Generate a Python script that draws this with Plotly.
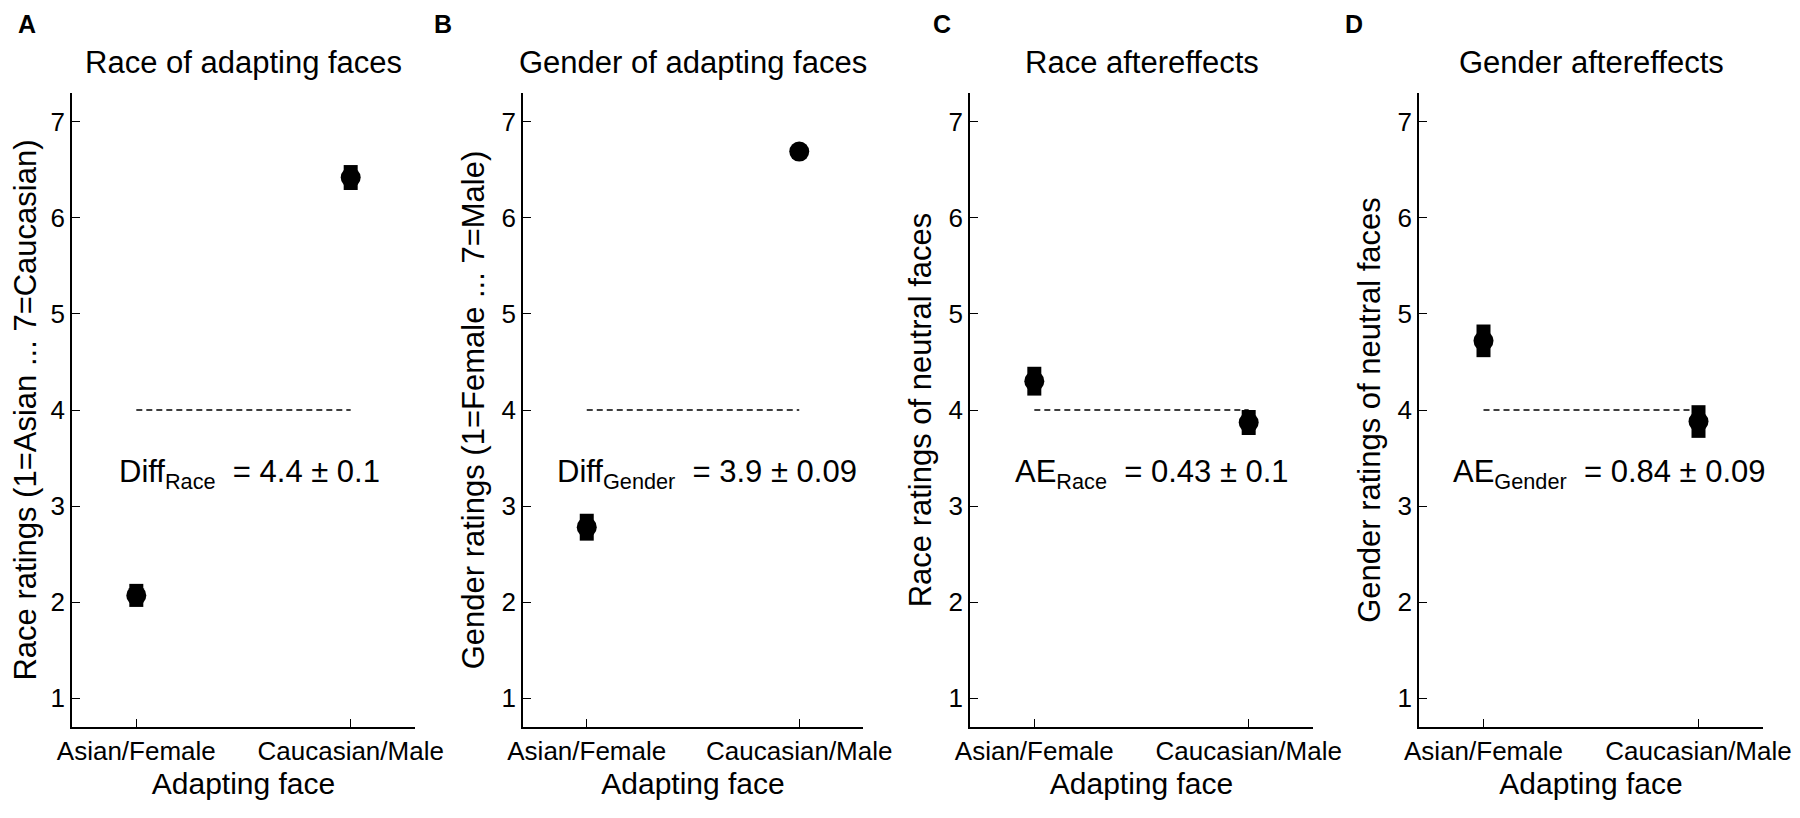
import plotly.graph_objects as go
from plotly.subplots import make_subplots

categories = ["Asian/Female", "Caucasian/Male"]
cat_pos = [1, 2]

race_adapt_mean = [2.07, 6.42]
race_adapt_err = [0.12, 0.13]
gender_adapt_mean = [2.78, 6.69]
gender_adapt_err = [0.14, 0.07]
race_ae_mean = [4.30, 3.87]
race_ae_err = [0.15, 0.13]
gender_ae_mean = [4.72, 3.88]
gender_ae_err = [0.17, 0.17]

panel_letters = ["A", "B", "C", "D"]
panel_titles = ["Race of adapting faces", "Gender of adapting faces",
                "Race aftereffects", "Gender aftereffects"]
y_titles = ["Race ratings (1=Asian ... 7=Caucasian)",
            "Gender ratings (1=Female ... 7=Male)",
            "Race ratings of neutral faces",
            "Gender ratings of neutral faces"]
stat_texts = ["Diff<sub>Race</sub>&nbsp; = 4.4 ± 0.1",
              "Diff<sub>Gender</sub>&nbsp; = 3.9 ± 0.09",
              "AE<sub>Race</sub>&nbsp; = 0.43 ± 0.1",
              "AE<sub>Gender</sub>&nbsp; = 0.84 ± 0.09"]
stat_x = [0.91, 0.85, 0.90, 0.85]
stat_y = 3.33
neutral = [4, 4]

means = [race_adapt_mean, gender_adapt_mean, race_ae_mean, gender_ae_mean]
errs = [race_adapt_err, gender_adapt_err, race_ae_err, gender_ae_err]

# the page body has an 8px margin, so the figure is a bit smaller than the window
OFF = 8
W, H = 1800 - 2 * OFF, 818 - 2 * OFF
FONT = "Liberation Sans, Arial, sans-serif"
# window pixel boxes of the four axes (left, right), shared top/bottom
x_px = [(72, 415), (523, 863), (970, 1313), (1419, 1763)]
y_top, y_bot = 93, 727
letter_px = [27, 443, 942, 1354]


def px(x):
    return (x - OFF) / W


def py(y):
    return 1 - (y - OFF) / H


fig = make_subplots(rows=1, cols=4)

for i in range(4):
    col = i + 1
    # dashed reference line at the scale midpoint
    fig.add_trace(go.Scatter(x=cat_pos, y=neutral, mode="lines",
                             line=dict(color="black", width=1.5, dash="6px,4px"),
                             showlegend=False, hoverinfo="skip"), row=1, col=col)
    fig.add_trace(go.Scatter(x=cat_pos, y=means[i], mode="markers",
                             marker=dict(color="black", size=20, symbol="circle"),
                             error_y=dict(type="data", array=errs[i], color="black",
                                          thickness=14, width=0),
                             showlegend=False), row=1, col=col)

    xn = "xaxis" if i == 0 else "xaxis%d" % col
    yn = "yaxis" if i == 0 else "yaxis%d" % col
    l, r = x_px[i]
    fig.layout[xn].update(domain=[px(l), px(r)], range=[0.7, 2.3], automargin=False,
                          tickvals=cat_pos, ticktext=categories,
                          ticklabeloverflow="allow",
                          ticks="inside", ticklen=8, tickcolor="black",
                          showline=True, linecolor="black", linewidth=1.5,
                          showgrid=False, zeroline=False,
                          tickfont=dict(size=26, color="black", family=FONT),
                          title=dict(text="Adapting face", standoff=8,
                                     font=dict(size=30, color="black", family=FONT)))
    fig.layout[yn].update(domain=[py(y_bot), py(y_top)], range=[0.7, 7.3],
                          automargin=False, tickvals=[1, 2, 3, 4, 5, 6, 7],
                          ticklabeloverflow="allow",
                          ticks="inside", ticklen=8, tickcolor="black",
                          showline=True, linecolor="black", linewidth=1.5,
                          showgrid=False, zeroline=False,
                          tickfont=dict(size=26, color="black", family=FONT),
                          title=dict(text=y_titles[i], standoff=8,
                                     font=dict(size=31, color="black", family=FONT)))

    xref = "x" if i == 0 else "x%d" % col
    yref = "y" if i == 0 else "y%d" % col
    fig.add_annotation(x=stat_x[i], y=stat_y, xref=xref, yref=yref,
                       text=stat_texts[i], showarrow=False, xanchor="left",
                       font=dict(size=31, color="black", family=FONT))
    fig.add_annotation(x=px((l + r) / 2), y=py(62), xref="paper", yref="paper",
                       xanchor="center", yanchor="middle",
                       text=panel_titles[i], showarrow=False,
                       font=dict(size=31, color="black", family=FONT))
    fig.add_annotation(x=px(letter_px[i]), y=py(24), xref="paper", yref="paper",
                       xanchor="center", yanchor="middle",
                       text="<b>%s</b>" % panel_letters[i], showarrow=False,
                       font=dict(size=25, color="black", family=FONT))

fig.update_layout(template="none", width=W, height=H,
                  plot_bgcolor="white", paper_bgcolor="white",
                  margin=dict(l=0, r=0, t=0, b=0, autoexpand=False), showlegend=False)

fig.write_html("out.html")
